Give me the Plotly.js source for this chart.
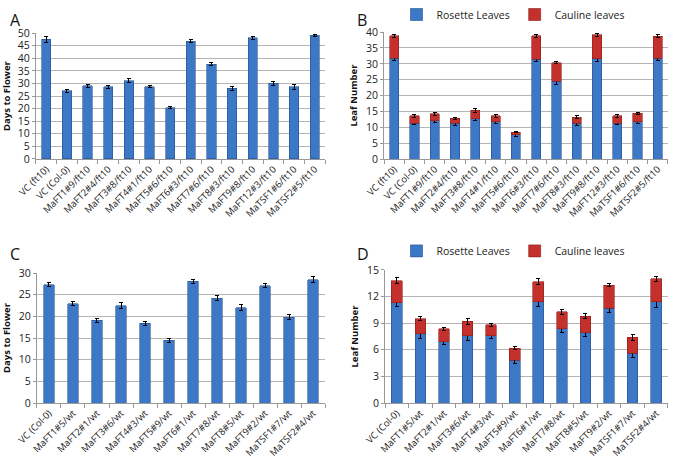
<!DOCTYPE html>
<html>
<head>
<meta charset="utf-8">
<script src="https://cdn.plot.ly/plotly-3.0.1.min.js"></script>
<style>
  html, body { margin: 0; padding: 0; background: #fff; }
  #chart { width: 675px; height: 459px; }
</style>
</head>
<body>
<div id="chart"></div>
<script>
// panel A: days to flower, ft10 background
var linesA = ["VC (ft10)", "VC (Col-0)", "MaFT1#9/ft10", "MaFT2#4/ft10", "MaFT3#8/ft10", "MaFT4#1/ft10",
  "MaFT5#6/ft10", "MaFT6#3/ft10", "MaFT7#6/ft10", "MaFT8#3/ft10", "MaFT9#8/ft10", "MaFT12#3/ft10",
  "MaTSF1#6/ft10", "MaTSF2#5/ft10"];
var daysA = [47.6, 27.1, 29.0, 28.7, 31.1, 28.7, 20.4, 46.8, 37.7, 28.1, 48.1, 30.0, 28.7, 49.1];
var daysErrA = [1.2, 0.6, 0.6, 0.6, 0.8, 0.5, 0.5, 0.6, 0.7, 0.8, 0.6, 0.8, 1.0, 0.4];

// panel B: leaf number, ft10 background
var rosetteB = [31.7, 11.3, 12.1, 11.2, 12.7, 11.7, 7.6, 31.5, 24.5, 11.2, 31.6, 11.3, 11.8, 31.8];
var rosetteErrB = [0.8, 0.5, 0.5, 0.5, 0.6, 0.6, 0.4, 0.8, 1.0, 0.5, 0.8, 0.5, 0.6, 0.8];
var caulineB = [7.1, 2.3, 2.1, 1.6, 2.6, 1.9, 0.9, 7.3, 5.9, 2.0, 7.5, 2.3, 2.6, 6.9];
var caulineErrB = [0.4, 0.4, 0.4, 0.4, 0.5, 0.4, 0.3, 0.4, 0.4, 0.4, 0.4, 0.4, 0.4, 0.4];

// panel C: days to flower, wt background
var linesC = ["VC (Col-0)", "MaFT1#5/wt", "MaFT2#1/wt", "MaFT3#6/wt", "MaFT4#3/wt", "MaFT5#9/wt",
  "MaFT6#1/wt", "MaFT7#8/wt", "MaFT8#5/wt", "MaFT9#2/wt", "MaTSF1#7/wt", "MaTSF2#4/wt"];
var daysC = [27.3, 22.9, 19.1, 22.4, 18.4, 14.5, 28.1, 24.2, 22.0, 27.1, 19.8, 28.5];
var daysErrC = [0.5, 0.5, 0.5, 0.7, 0.5, 0.5, 0.5, 0.6, 0.7, 0.5, 0.6, 0.8];

// panel D: leaf number, wt background
var rosetteD = [11.3, 7.8, 6.9, 7.6, 7.6, 4.8, 11.4, 8.4, 7.9, 10.7, 5.6, 11.4];
var rosetteErrD = [0.4, 0.5, 0.3, 0.5, 0.3, 0.3, 0.5, 0.5, 0.4, 0.5, 0.5, 0.6];
var caulineD = [2.5, 1.7, 1.45, 1.6, 1.2, 1.4, 2.3, 1.9, 1.9, 2.6, 1.8, 2.6];
var caulineErrD = [0.3, 0.2, 0.2, 0.3, 0.15, 0.2, 0.3, 0.3, 0.25, 0.2, 0.3, 0.3];

var blue = "#3d78c6";
var blueEdge = "#24508f";
var red = "#c4302b";
var redEdge = "#8a1e1b";
var fontName = "Open Sans, Liberation Sans, sans-serif";

function errs(arr) {
  return {type: "data", array: arr, visible: true, color: "#000", thickness: 1, width: 2};
}

var data = [
  {x: linesA, y: daysA, type: "bar", xaxis: "x", yaxis: "y", showlegend: false,
    marker: {color: blue, line: {color: blueEdge, width: 0.6}}, error_y: errs(daysErrA)},
  {x: linesA, y: rosetteB, type: "bar", xaxis: "x2", yaxis: "y2", name: "Rosette Leaves", legend: "legend",
    marker: {color: blue, line: {color: blueEdge, width: 0.6}}, error_y: errs(rosetteErrB)},
  {x: linesA, y: caulineB, type: "bar", xaxis: "x2", yaxis: "y2", name: "Cauline leaves", legend: "legend",
    marker: {color: red, line: {color: redEdge, width: 0.6}}, error_y: errs(caulineErrB)},
  {x: linesC, y: daysC, type: "bar", xaxis: "x3", yaxis: "y3", showlegend: false,
    marker: {color: blue, line: {color: blueEdge, width: 0.6}}, error_y: errs(daysErrC)},
  {x: linesC, y: rosetteD, type: "bar", xaxis: "x4", yaxis: "y4", name: "Rosette Leaves", legend: "legend2",
    marker: {color: blue, line: {color: blueEdge, width: 0.6}}, error_y: errs(rosetteErrD)},
  {x: linesC, y: caulineD, type: "bar", xaxis: "x4", yaxis: "y4", name: "Cauline leaves", legend: "legend2",
    marker: {color: red, line: {color: redEdge, width: 0.6}}, error_y: errs(caulineErrD)}
];

function xAxis(domain, anchor) {
  return {
    domain: domain, anchor: anchor, type: "category",
    tickangle: -45, tickfont: {family: fontName, size: 9.5, color: "#222"},
    showline: true, linecolor: "#999", linewidth: 1,
    ticks: "outside", tickson: "boundaries", ticklen: 4, tickcolor: "#999",
    showgrid: false, fixedrange: true
  };
}

function yAxis(domain, anchor, top, step, title) {
  return {
    domain: domain, anchor: anchor, range: [0, top], dtick: step, tick0: 0,
    showline: true, linecolor: "#999", linewidth: 1,
    ticks: "outside", ticklen: 3, tickcolor: "#999",
    gridcolor: "#b5b5b5", gridwidth: 1, zeroline: false,
    tickfont: {family: fontName, size: 10.5, color: "#222"},
    title: {text: "<b>" + title + "</b>", font: {family: fontName, size: 9.5, color: "#111"}, standoff: 6},
    fixedrange: true
  };
}

function legendBox(yPos) {
  return {orientation: "h", x: 0.76, xanchor: "center", y: yPos, yanchor: "top", traceorder: "normal",
    font: {family: fontName, size: 10.5, color: "#222"}, bgcolor: "rgba(0,0,0,0)", itemwidth: 30};
}

var layout = {
  width: 675, height: 459,
  margin: {l: 0, r: 0, t: 0, b: 0},
  paper_bgcolor: "#fff", plot_bgcolor: "#fff",
  barmode: "stack", bargap: 0.55,
  font: {family: fontName},
  xaxis: xAxis([0.0533, 0.4815], "y"),
  yaxis: yAxis([0.6536, 0.928], "x", 50, 5, "Days to Flower"),
  xaxis2: xAxis([0.569, 0.9896], "y2"),
  yaxis2: yAxis([0.6536, 0.930], "x2", 40, 5, "Leaf Number"),
  xaxis3: xAxis([0.0548, 0.4815], "y3"),
  yaxis3: yAxis([0.122, 0.4052], "x3", 30, 5, "Days to Flower"),
  xaxis4: xAxis([0.5704, 0.9896], "y4"),
  yaxis4: yAxis([0.122, 0.4118], "x4", 15, 3, "Leaf Number"),
  legend: legendBox(1.0),
  legend2: legendBox(0.485),
  annotations: [
    {text: "A", x: 0.012, y: 0.985, xref: "paper", yref: "paper", xanchor: "left", yanchor: "top", showarrow: false,
      font: {family: fontName, size: 16, color: "#111"}},
    {text: "B", x: 0.526, y: 0.985, xref: "paper", yref: "paper", xanchor: "left", yanchor: "top", showarrow: false,
      font: {family: fontName, size: 16, color: "#111"}},
    {text: "C", x: 0.012, y: 0.475, xref: "paper", yref: "paper", xanchor: "left", yanchor: "top", showarrow: false,
      font: {family: fontName, size: 16, color: "#111"}},
    {text: "D", x: 0.526, y: 0.475, xref: "paper", yref: "paper", xanchor: "left", yanchor: "top", showarrow: false,
      font: {family: fontName, size: 16, color: "#111"}}
  ]
};

Plotly.newPlot("chart", data, layout, {displayModeBar: false, staticPlot: true});
</script>
</body>
</html>
